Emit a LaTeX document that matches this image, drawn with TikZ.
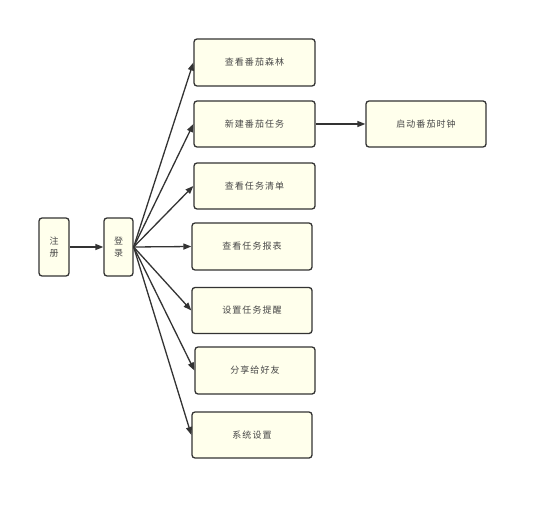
\documentclass[tikz,border=0pt]{standalone}
\usepackage{fontspec}
\newfontfamily\cjk[LetterSpace=12]{Noto Sans CJK SC}
\usetikzlibrary{arrows.meta}
\definecolor{boxfill}{RGB}{255,255,236}
\definecolor{edge}{RGB}{51,51,51}
\begin{document}
\begin{tikzpicture}[x=1pt,y=-1pt,
  box/.style={draw=edge,line width=1.3pt,fill=boxfill,rounded corners=3pt,inner sep=0pt,font=\cjk\fontsize{9}{12.5}\selectfont,text=edge!90},
  conn/.style={draw=edge,line width=1.3pt,-{Triangle[length=8pt,width=6pt]}}]
\useasboundingbox (0,0) rectangle (537,510);
\node[box,minimum width=30pt,minimum height=58pt,align=center] (reg) at (54,247) {注\\册};
\node[box,minimum width=29pt,minimum height=58pt,align=center] (login) at (118.5,247) {登\\录};
\node[box,minimum width=121pt,minimum height=47pt] (b1) at (254.5,62.5) {查看番茄森林};
\node[box,minimum width=121pt,minimum height=46pt] (b2) at (254.5,124) {新建番茄任务};
\node[box,minimum width=121pt,minimum height=46pt] (b3) at (254.5,186) {查看任务清单};
\node[box,minimum width=120pt,minimum height=47pt] (b4) at (252,246.5) {查看任务报表};
\node[box,minimum width=120pt,minimum height=46pt] (b5) at (252,310.5) {设置任务提醒};
\node[box,minimum width=120pt,minimum height=47pt] (b6) at (255,370.5) {分享给好友};
\node[box,minimum width=120pt,minimum height=46pt] (b7) at (252,435) {系统设置};
\node[box,minimum width=120pt,minimum height=46pt] (clock) at (426,124) {启动番茄时钟};
\draw[conn] (reg.east) -- (login.west);
\foreach \b in {b1,b2,b3,b4,b5,b6,b7}{
  \draw[conn] (login.east) -- (\b.west);
}
\draw[conn] (b2.east) -- (clock.west);
\end{tikzpicture}
\end{document}
